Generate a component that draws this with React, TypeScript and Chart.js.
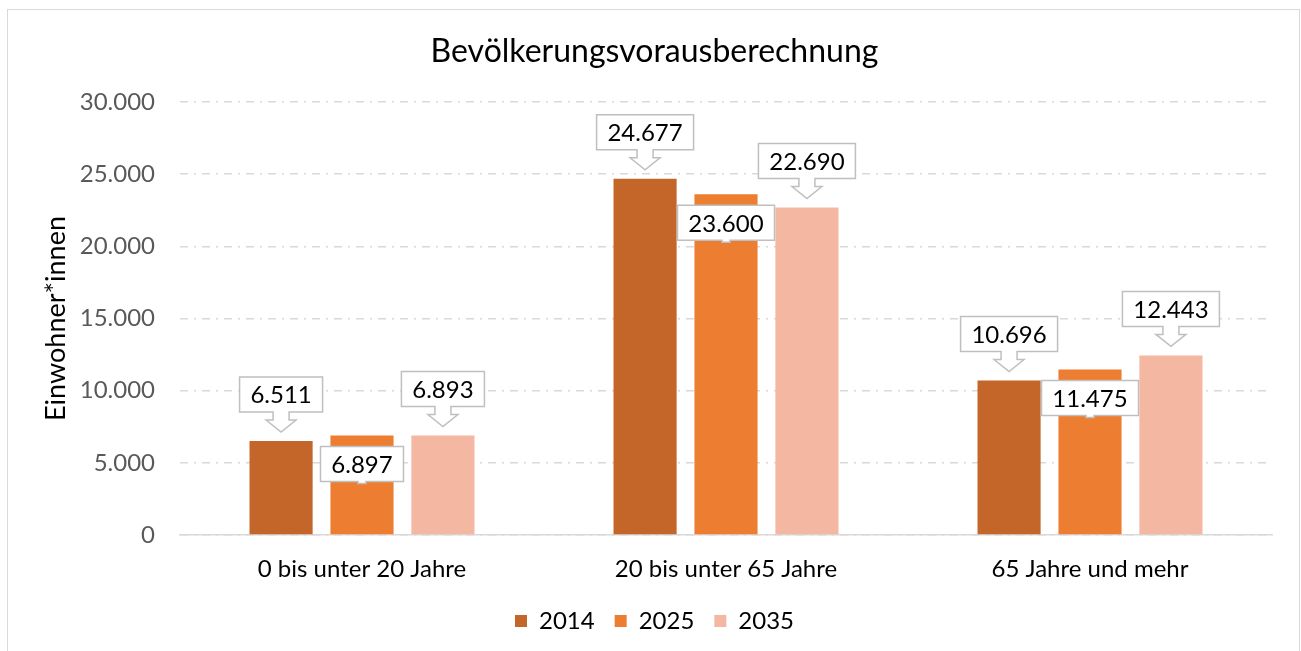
import React, { useEffect, useRef } from "react";
import { Chart, registerables } from "chart.js";

Chart.register(...registerables);

const categories = ["0 bis unter 20 Jahre", "20 bis unter 65 Jahre", "65 Jahre und mehr"];
const seriesNames = ["2014", "2025", "2035"];
const values2014 = [6511, 24677, 10696];
const values2025 = [6897, 23600, 11475];
const values2035 = [6893, 22690, 12443];
const seriesColors = ["#C4652A", "#ED7D31", "#F4B8A2"];
const chartTitle = "Bevölkerungsvorausberechnung";
const yAxisTitle = "Einwohner*innen";

const fmt = (v: number) => String(Math.round(v)).replace(/\B(?=(\d{3})+(?!\d))/g, ".");

const FONT = "Lato, 'Open Sans', sans-serif";

const calloutPlugin = {
  id: "callouts",
  afterDatasetsDraw(chart: any) {
    const ctx = chart.ctx;
    ctx.save();
    ctx.font = `24px ${FONT}`;
    chart.data.datasets.forEach((ds: any, di: number) => {
      const meta = chart.getDatasetMeta(di);
      meta.data.forEach((bar: any, i: number) => {
        const text = fmt(ds.data[i]);
        const tw = ctx.measureText(text).width;
        const w = Math.round(tw + 22);
        const h = 35;
        const x = bar.x;
        const left = x - w / 2;
        const right = x + w / 2;
        ctx.lineWidth = 1.5;
        ctx.strokeStyle = "#BFBFBF";
        ctx.fillStyle = "#FFFFFF";
        let top: number;
        if (di === 1) {
          top = bar.y + 11;
          const bottom = top + h;
          ctx.beginPath();
          ctx.moveTo(left, top);
          ctx.lineTo(right, top);
          ctx.lineTo(right, bottom);
          ctx.lineTo(x + 4, bottom);
          ctx.lineTo(x + 4, bottom + 2);
          ctx.lineTo(x - 4, bottom + 2);
          ctx.lineTo(x - 4, bottom);
          ctx.lineTo(left, bottom);
          ctx.closePath();
          ctx.fill();
          ctx.stroke();
        } else {
          const bottom = bar.y - 29;
          top = bottom - h;
          const tip = bar.y - 9;
          const stemHalf = 8;
          const headHalf = 15;
          const stemEnd = bottom + 8;
          ctx.beginPath();
          ctx.moveTo(left, top);
          ctx.lineTo(right, top);
          ctx.lineTo(right, bottom);
          ctx.lineTo(x + stemHalf, bottom);
          ctx.lineTo(x + stemHalf, stemEnd);
          ctx.lineTo(x + headHalf, stemEnd);
          ctx.lineTo(x, tip);
          ctx.lineTo(x - headHalf, stemEnd);
          ctx.lineTo(x - stemHalf, stemEnd);
          ctx.lineTo(x - stemHalf, bottom);
          ctx.lineTo(left, bottom);
          ctx.closePath();
          ctx.fill();
          ctx.stroke();
        }
        ctx.fillStyle = "#000000";
        ctx.textAlign = "center";
        ctx.textBaseline = "middle";
        ctx.fillText(text, x, top + h / 2 + 1);
      });
    });
    ctx.restore();
  },
};

export default function App() {
  const ref = useRef<HTMLCanvasElement | null>(null);
  useEffect(() => {
    if (!ref.current) return;
    const data = [values2014, values2025, values2035];
    const chart = new Chart(ref.current, {
      type: "bar",
      data: {
        labels: categories,
        datasets: seriesNames.map((name, k) => ({
          label: name,
          data: data[k],
          backgroundColor: seriesColors[k],
          categoryPercentage: 0.667,
          barPercentage: 0.78,
        })),
      },
      options: {
        responsive: false,
        animation: false,
        layout: { padding: { left: 37, right: 29, top: 0, bottom: 8 } },
        plugins: {
          title: {
            display: true,
            text: chartTitle,
            color: "#000000",
            font: { family: FONT, size: 32, weight: "normal" },
            padding: { top: 32, bottom: 31.6 },
          },
          legend: {
            position: "bottom",
            labels: {
              boxWidth: 12,
              boxHeight: 12,
              color: "#000000",
              font: { family: FONT, size: 24 },
              padding: 20,
            },
          },
          tooltip: { enabled: false },
        },
        scales: {
          x: {
            afterFit: (s: any) => {
              s.height = 54;
            },
            grid: { display: true, drawOnChartArea: false, drawTicks: false },
            border: { display: true, color: "#D9D9D9", width: 1.5 },
            ticks: { color: "#000000", font: { family: FONT, size: 24 }, padding: 20 },
          },
          y: {
            min: 0,
            max: 30000,
            afterFit: (s: any) => {
              s.width = 143;
            },
            ticks: {
              stepSize: 5000,
              color: "#595959",
              font: { family: FONT, size: 24 },
              padding: 25,
              callback: (v: any) => fmt(Number(v)),
            },
            grid: { color: "#D9D9D9", lineWidth: 1.5, drawTicks: false, borderDash: [8, 6, 2, 6] } as any,
            border: { display: false, dash: [8, 6, 2, 6] },
            title: {
              display: true,
              text: yAxisTitle,
              color: "#000000",
              font: { family: FONT, size: 27 },
              padding: { top: 3, bottom: 0 },
            },
          },
        },
      },
      plugins: [calloutPlugin],
    } as any);
    return () => chart.destroy();
  }, []);
  return (
    <div style={{ position: "fixed", left: 0, top: 0, width: 1301, height: 651, background: "#fff" }}>
      <div
        style={{
          position: "absolute",
          left: 7,
          top: 9,
          width: 1291,
          height: 700,
          border: "1px solid #D9D9D9",
        }}
      />
      <canvas ref={ref} width={1301} height={651} style={{ position: "absolute", left: 0, top: 0 }} />
    </div>
  );
}
